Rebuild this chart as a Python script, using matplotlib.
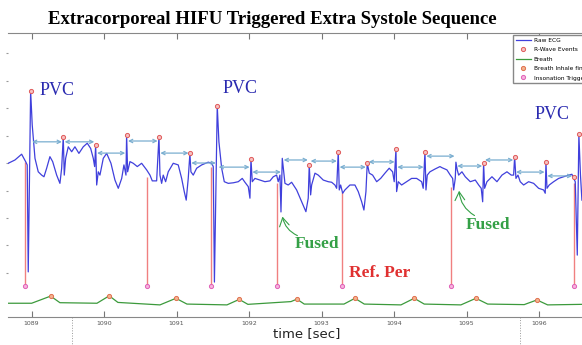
"""
HIFU triggered extra systole sequence: raw ECG with R-wave events, breath trace and insonation triggers.
"""

import matplotlib

matplotlib.use("Agg")
import matplotlib.pyplot as plt
import matplotlib.transforms as mtransforms

# ---- raw ECG trace (time [s], amplitude [mV]) ----
ecg_t = [
    1088.677, 1088.770, 1088.862, 1088.921, 1088.939, 1088.953, 1088.986, 1089.008, 1089.046, 1089.091,
    1089.138, 1089.170, 1089.207, 1089.252, 1089.290, 1089.345, 1089.390, 1089.414, 1089.436, 1089.450,
    1089.469, 1089.505, 1089.552, 1089.597, 1089.652, 1089.712, 1089.767, 1089.814, 1089.850, 1089.869,
    1089.883, 1089.897, 1089.919, 1089.942, 1089.988, 1090.035, 1090.094, 1090.149, 1090.195, 1090.242,
    1090.273, 1090.301, 1090.310, 1090.324, 1090.356, 1090.401, 1090.457, 1090.517, 1090.586, 1090.632,
    1090.664, 1090.724, 1090.756, 1090.770, 1090.793, 1090.815, 1090.848, 1090.884, 1090.953, 1091.022,
    1091.069, 1091.105, 1091.132, 1091.160, 1091.183, 1091.197, 1091.229, 1091.276, 1091.345, 1091.436,
    1091.483, 1091.505, 1091.521, 1091.560, 1091.583, 1091.621, 1091.657, 1091.712, 1091.781, 1091.850,
    1091.905, 1091.942, 1091.988, 1092.011, 1092.025, 1092.043, 1092.080, 1092.149, 1092.218, 1092.287,
    1092.333, 1092.379, 1092.401, 1092.425, 1092.439, 1092.457, 1092.494, 1092.539, 1092.586, 1092.655,
    1092.724, 1092.783, 1092.815, 1092.829, 1092.848, 1092.862, 1092.908, 1092.953, 1093.022, 1093.091,
    1093.138, 1093.183, 1093.207, 1093.229, 1093.243, 1093.262, 1093.290, 1093.321, 1093.390, 1093.459,
    1093.505, 1093.552, 1093.583, 1093.611, 1093.629, 1093.657, 1093.703, 1093.759, 1093.814, 1093.873,
    1093.932, 1093.979, 1094.001, 1094.025, 1094.034, 1094.057, 1094.103, 1094.172, 1094.241, 1094.310,
    1094.379, 1094.401, 1094.425, 1094.439, 1094.457, 1094.494, 1094.563, 1094.632, 1094.659, 1094.728,
    1094.774, 1094.807, 1094.821, 1094.843, 1094.852, 1094.870, 1094.890, 1094.935, 1094.981, 1095.050,
    1095.119, 1095.166, 1095.201, 1095.221, 1095.234, 1095.248, 1095.280, 1095.349, 1095.418, 1095.487,
    1095.556, 1095.615, 1095.648, 1095.662, 1095.680, 1095.708, 1095.739, 1095.786, 1095.855, 1095.924,
    1095.993, 1096.062, 1096.084, 1096.094, 1096.108, 1096.139, 1096.200, 1096.269, 1096.338, 1096.407,
    1096.452, 1096.476, 1096.498, 1096.526, 1096.548, 1096.570, 1096.590,
]
ecg_v = [
    3.99, 4.11, 4.32, 4.03, 3.93, 0.04, 6.62, 5.38, 4.17, 3.68,
    3.56, 3.50, 3.81, 4.23, 4.05, 3.56, 3.26, 3.81, 4.96, 3.56,
    4.17, 4.59, 4.41, 4.59, 4.35, 4.59, 4.72, 4.53, 4.17, 3.87,
    4.65, 3.20, 3.68, 3.56, 4.17, 4.35, 3.99, 3.38, 3.08, 3.44,
    3.93, 3.56, 5.02, 3.68, 4.05, 3.99, 3.87, 3.99, 3.75, 3.56,
    3.35, 3.35, 4.96, 3.56, 3.26, 3.56, 3.32, 3.68, 3.99, 3.93,
    3.44, 2.96, 2.65, 3.44, 4.35, 3.68, 3.56, 3.81, 3.93, 4.03,
    3.99, 3.87, -0.33, 6.08, 4.77, 3.81, 3.32, 3.26, 3.28, 3.32,
    3.44, 3.30, 3.14, 2.72, 4.15, 3.32, 3.44, 3.38, 3.32, 3.35,
    3.50, 3.56, 3.32, 3.56, 2.22, 4.17, 3.26, 3.20, 3.30, 3.02,
    2.59, 2.23, 2.72, 3.93, 2.84, 3.20, 3.63, 3.56, 3.38, 3.32,
    3.30, 3.20, 3.08, 4.41, 3.02, 3.20, 2.90, 3.02, 3.20, 3.20,
    2.96, 2.59, 2.29, 2.96, 3.99, 3.63, 3.56, 3.32, 3.44, 3.63,
    3.81, 3.68, 3.32, 4.51, 2.96, 3.32, 3.20, 3.32, 3.44, 3.44,
    3.32, 3.08, 4.41, 3.02, 3.56, 3.68, 3.78, 3.87, 3.83, 3.75,
    3.56, 3.44, 3.02, 3.44, 4.03, 3.75, 3.56, 3.68, 3.50, 3.32,
    3.38, 3.20, 3.08, 2.59, 3.99, 3.08, 3.32, 3.50, 3.32, 3.56,
    3.68, 3.56, 3.56, 4.23, 3.44, 3.56, 3.32, 3.20, 3.32, 3.26,
    3.08, 3.02, 2.90, 4.03, 3.08, 3.20, 3.32, 3.44, 3.50, 3.56,
    3.59, 3.44, 3.32, 0.65, 5.04, 3.56, 2.65,
]

# ---- detected R-wave events ----
r_t = [1088.986, 1089.436, 1089.883, 1090.310, 1090.756, 1091.183, 1091.560, 1092.025, 1092.829,
       1093.229, 1093.629, 1094.025, 1094.425, 1095.234, 1095.662, 1096.094, 1096.476, 1096.548]
r_v = [6.62, 4.96, 4.65, 5.02, 4.96, 4.35, 6.08, 4.15, 3.93,
       4.41, 3.99, 4.51, 4.41, 3.99, 4.23, 4.03, 3.50, 5.04]

# ---- all beats (incl. fused) and R-R interval arrow heights ----
beat_t = [1088.986, 1089.436, 1089.883, 1090.310, 1090.756, 1091.183, 1091.560, 1092.025, 1092.457,
          1092.829, 1093.229, 1093.629, 1094.025, 1094.425, 1094.852, 1095.234, 1095.662, 1096.094,
          1096.476]
rr_level = [4.77, 4.77, 4.36, 4.80, 4.36, 4.00, 3.85, 3.67, 4.11,
            4.07, 3.85, 4.04, 3.85, 4.25, 3.89, 4.11, 3.67, 3.53]

# ---- breath trace ----
breath_t = [1088.673, 1089.000, 1089.262, 1089.390, 1089.901, 1090.070, 1090.190, 1090.770, 1090.990,
            1091.142, 1091.694, 1091.863, 1091.983, 1092.577, 1092.659, 1092.760, 1093.308, 1093.459,
            1093.588, 1094.094, 1094.277, 1094.415, 1094.921, 1095.128, 1095.290, 1095.794, 1095.970,
            1096.117, 1096.590]
breath_v = [-1.10, -1.10, -0.84, -1.08, -1.10, -0.83, -1.07, -1.16, -0.92,
            -1.13, -1.16, -0.96, -1.14, -1.04, -0.95, -1.13, -1.13, -0.92,
            -1.13, -1.16, -0.92, -1.13, -1.16, -0.92, -1.13, -1.15, -0.98,
            -1.16, -1.14]
inhale_t = [1089.262, 1090.070, 1090.990, 1091.863, 1092.659, 1093.459, 1094.277, 1095.128, 1095.970]
inhale_v = [-0.84, -0.83, -0.92, -0.96, -0.95, -0.92, -0.92, -0.92, -0.98]

# ---- insonation triggers ----
trig_t = [1088.908, 1090.594, 1091.469, 1092.388, 1093.276, 1094.783, 1096.476]
trig_top = [4.04, 3.50, 3.87, 3.27, 2.96, 3.14, 3.26]
trig_level = -0.47

x_ticks = [1089, 1090, 1091, 1092, 1093, 1094, 1095, 1096]

SERIF = "Liberation Serif"


def main():
    fig = plt.figure(figsize=(5.82, 3.45), dpi=100)
    ax = fig.add_axes([0.01426, 0.0803, 1.051, 0.824])

    # 曲线
    ax.plot(ecg_t, ecg_v, color="#4040dc", lw=0.9, label="Raw ECG", zorder=3)
    ax.plot(r_t, r_v, "o", ms=3.0, mfc="#f6c0c0", mec="#e05a5a", mew=0.7,
            label="R-Wave Events", zorder=4)
    ax.plot(breath_t, breath_v, color="#3c9a3c", lw=0.9, label="Breath", zorder=3)
    ax.plot(inhale_t, inhale_v, "o", ms=3.0, mfc="#f2b48f", mec="#e0704f", mew=0.7,
            label="Breath Inhale finish", zorder=4)
    ax.vlines(trig_t, [trig_level] * len(trig_t), trig_top, color="#f08080", lw=1.0, zorder=2)
    ax.plot(trig_t, [trig_level] * len(trig_t), "o", ms=3.0, mfc="#f6b3dc", mec="#e060b8",
            mew=0.7, label="Insonation Trigger", zorder=4)

    # R-R interval arrows
    for i, h in enumerate(rr_level):
        ax.annotate("", xy=(beat_t[i + 1], h), xytext=(beat_t[i], h),
                    arrowprops=dict(arrowstyle="<->", color="#7aaed0", lw=0.9,
                                    shrinkA=1, shrinkB=1, mutation_scale=6),
                    zorder=5)

    # 文字标注
    for tx, ty in [(1089.356, 6.65), (1091.880, 6.71), (1096.184, 5.78)]:
        ax.text(tx, ty, "PVC", color="#2a2ab0", fontsize=13, family=SERIF,
                ha="center", va="center")
    ax.text(1092.931, 1.07, "Fused", color="#34a046", fontsize=12.5, family=SERIF,
            weight="bold", ha="center", va="center")
    ax.text(1095.301, 1.73, "Fused", color="#34a046", fontsize=12.5, family=SERIF,
            weight="bold", ha="center", va="center")
    ax.text(1093.804, 0.0, "Ref. Per", color="#e03030", fontsize=12.5, family=SERIF,
            weight="bold", ha="center", va="center")
    ax.annotate("", xy=(1092.453, 2.15), xytext=(1092.701, 1.32),
                arrowprops=dict(arrowstyle="->,head_width=0.35,head_length=0.6",
                                color="#34a046", lw=0.8,
                                connectionstyle="arc3,rad=-0.3"))
    ax.annotate("", xy=(1094.894, 3.09), xytext=(1095.142, 2.04),
                arrowprops=dict(arrowstyle="->,head_width=0.35,head_length=0.6",
                                color="#34a046", lw=0.8,
                                connectionstyle="arc3,rad=-0.3"))

    # 坐标轴
    ax.set_xlim(1088.678, 1097.115)
    ax.set_ylim(-1.611, 8.727)
    ax.set_xticks(x_ticks)
    ax.set_xticklabels([str(v) for v in x_ticks])
    ax.tick_params(axis="x", direction="in", length=4, top=True, labelsize=4.5,
                   labelcolor="#555555", color="#777777", pad=2.5)
    ax.set_yticks(range(0, 9))
    ax.set_yticklabels([])
    ax.tick_params(axis="y", direction="out", length=1.2, color="#999999")
    ax.spines["left"].set_visible(False)
    for side in ["top", "bottom", "right"]:
        ax.spines[side].set_color("#888888")
        ax.spines[side].set_linewidth(0.8)

    # dotted guides below the axis
    trans = mtransforms.blended_transform_factory(ax.transData, ax.transAxes)
    for gx in [1089.552, 1095.735]:
        ax.plot([gx, gx], [0.0, -0.11], transform=trans, ls=":", lw=0.7,
                color="#999999", clip_on=False)

    # legend (cropped at the right edge, as in the source screenshot)
    ax.legend(loc="upper left", bbox_to_anchor=(513 / 582, 1 - 35 / 345),
              bbox_transform=fig.transFigure, fontsize=4.2, frameon=True,
              fancybox=False, edgecolor="#888888", framealpha=1, numpoints=1,
              handlelength=2.6, borderpad=0.45, labelspacing=0.75,
              handletextpad=0.5, borderaxespad=0)

    fig.text(272 / 582, 1 - 24 / 345, "Extracorporeal HIFU Triggered Extra Systole Sequence",
             family=SERIF, weight="bold", fontsize=13.5, ha="center", va="baseline")
    fig.text(307 / 582, 1 - 334 / 345, "time [sec]", fontsize=9.5, ha="center",
             va="center", color="#222222")

    fig.savefig("out.png", dpi=100)


if __name__ == "__main__":
    main()
